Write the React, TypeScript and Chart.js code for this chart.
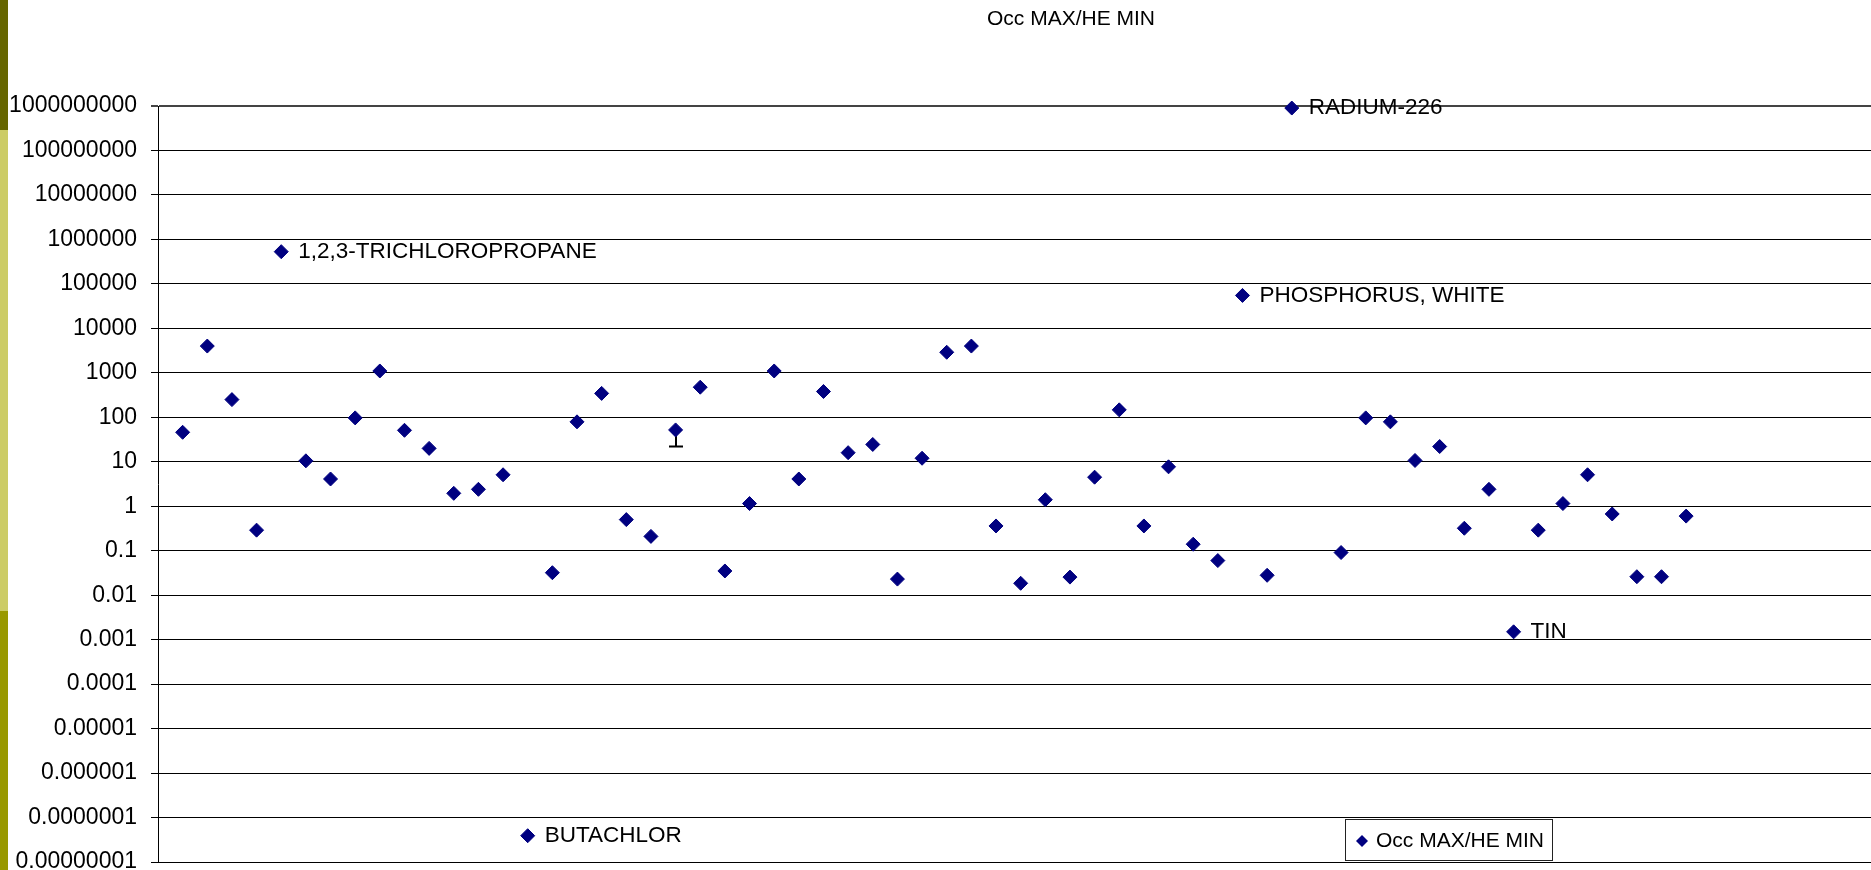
import React, { useEffect, useRef } from 'react';
import { Chart, registerables } from 'chart.js';

Chart.register(...registerables);

const chartTitle = 'Occ MAX/HE MIN';
const seriesName = 'Occ MAX/HE MIN';

// One value per substance, in plotted order (index 46 has no value)
const values: (number | null)[] = [
  46, 4000, 250, 0.29, 530000, 10.5, 4.1, 97, 1100, 51,
  20, 1.95, 2.4, 5.1, 3.9e-8, 0.032, 79, 345, 0.5, 0.21,
  52, 475, 0.035, 1.15, 1100, 4.1, 380, 16, 24.5, 0.023,
  12, 2900, 4000, 0.36, 0.0185, 1.4, 0.0255, 4.5, 147, 0.36,
  7.7, 0.14, 0.06, 55000, 0.028, 9e8, null, 0.091, 97, 79,
  10.7, 22, 0.32, 2.4, 0.0015, 0.29, 1.15, 5.1, 0.67, 0.026,
  0.026, 0.6,
];

const yTickLabels = [
  '0.00000001', '0.0000001', '0.000001', '0.00001', '0.0001', '0.001',
  '0.01', '0.1', '1', '10', '100', '1000', '10000', '100000', '1000000',
  '10000000', '100000000', '1000000000',
];

const labelIndex = [4, 14, 43, 45, 54];
const labelText = ['1,2,3-TRICHLOROPROPANE', 'BUTACHLOR', 'PHOSPHORUS, WHITE', 'RADIUM-226', 'TIN'];

const errorIndex = [20];
const errorLow = [22];

const FONT = '"Liberation Sans", Arial, sans-serif';
const W = 1871;
const H = 870;

const decorPlugin = {
  id: 'decor',
  beforeDraw(chart: any) {
    const ctx = chart.ctx;
    ctx.save();
    ctx.fillStyle = '#ffffff';
    ctx.fillRect(0, 0, chart.width, chart.height);
    ctx.fillStyle = '#666600';
    ctx.fillRect(0, 0, 8, 130);
    ctx.fillStyle = '#CCCC66';
    ctx.fillRect(0, 130, 8, 481);
    ctx.fillStyle = '#999900';
    ctx.fillRect(0, 611, 8, 259);
    ctx.fillStyle = '#000';
    ctx.font = `21px ${FONT}`;
    ctx.textAlign = 'center';
    ctx.textBaseline = 'middle';
    ctx.fillText(chartTitle, 1071, 19);
    ctx.restore();
  },
  beforeDatasetsDraw(chart: any) {
    const ctx = chart.ctx;
    const xs = chart.scales.x;
    const ys = chart.scales.y;
    ctx.save();
    ctx.strokeStyle = '#000';
    ctx.lineWidth = 2;
    errorIndex.forEach((idx, k) => {
      const v = values[idx];
      if (v == null) return;
      const px = Math.round(xs.getPixelForValue(idx + 1));
      const py = ys.getPixelForValue(v);
      const pl = ys.getPixelForValue(errorLow[k]);
      ctx.beginPath();
      ctx.moveTo(px, py);
      ctx.lineTo(px, pl);
      ctx.moveTo(px - 7, pl);
      ctx.lineTo(px + 7, pl);
      ctx.stroke();
    });
    ctx.restore();
  },
  afterDatasetsDraw(chart: any) {
    const ctx = chart.ctx;
    const xs = chart.scales.x;
    const ys = chart.scales.y;
    ctx.save();
    ctx.fillStyle = '#000';
    ctx.font = `22.5px ${FONT}`;
    ctx.textAlign = 'left';
    ctx.textBaseline = 'middle';
    labelIndex.forEach((idx, k) => {
      const v = values[idx];
      if (v == null) return;
      const px = xs.getPixelForValue(idx + 1);
      const py = ys.getPixelForValue(v);
      ctx.fillText(labelText[k], px + 17, py);
    });
    // legend box
    const bx = 1345.5, by = 819.5, bw = 207, bh = 41;
    ctx.fillStyle = '#fff';
    ctx.fillRect(bx, by, bw, bh);
    ctx.strokeStyle = '#222';
    ctx.lineWidth = 1;
    ctx.strokeRect(bx, by, bw, bh);
    const cx = 1362, cy = 841, r = 6;
    ctx.fillStyle = '#000080';
    ctx.beginPath();
    ctx.moveTo(cx - r, cy);
    ctx.lineTo(cx, cy - r);
    ctx.lineTo(cx + r, cy);
    ctx.lineTo(cx, cy + r);
    ctx.closePath();
    ctx.fill();
    ctx.fillStyle = '#000';
    ctx.font = `21px ${FONT}`;
    ctx.fillText(seriesName, 1376, 841);
    ctx.restore();
  },
};

export default function App() {
  const ref = useRef<HTMLCanvasElement | null>(null);

  useEffect(() => {
    if (!ref.current) return;
    const data = values.map((v, i) => ({ x: i + 1, y: v }));
    const chart = new Chart(ref.current, {
      type: 'scatter',
      data: {
        datasets: [
          {
            label: seriesName,
            data: data as any,
            pointStyle: 'rectRot',
            pointRadius: 7,
            pointBackgroundColor: '#000080',
            pointBorderColor: '#000080',
            pointBorderWidth: 1,
            showLine: false,
            clip: false,
          },
        ],
      },
      options: {
        animation: false,
        responsive: false,
        maintainAspectRatio: false,
        devicePixelRatio: 1,
        layout: { autoPadding: false, padding: { top: 106, bottom: 8, left: 0, right: 0 } },
        plugins: {
          legend: { display: false },
          title: { display: false },
          tooltip: { enabled: false },
        },
        scales: {
          x: {
            type: 'linear',
            display: false,
            min: 0,
            max: 69.5,
          },
          y: {
            type: 'logarithmic',
            min: Number(yTickLabels[0]),
            max: Number(yTickLabels[yTickLabels.length - 1]),
            afterBuildTicks: (scale: any) => {
              scale.ticks = yTickLabels.map((l) => ({ value: Number(l) }));
            },
            afterFit: (scale: any) => {
              scale.width = 158;
              scale.paddingTop = 0;
              scale.paddingBottom = 0;
            },
            ticks: {
              autoSkip: false,
              padding: 14,
              color: '#000',
              font: { family: FONT, size: 23 },
              callback: (_v: any, i: number) => yTickLabels[i],
            },
            grid: {
              color: (c: any) => (c.index === yTickLabels.length - 1 ? '#444' : '#000'),
              lineWidth: (c: any) => (c.index === yTickLabels.length - 1 ? 2 : 1),
              tickLength: 7,
              drawTicks: true,
            },
            border: { color: '#000', width: 1 },
          },
        },
      },
      plugins: [decorPlugin],
    });
    return () => chart.destroy();
  }, []);

  return (
    <div style={{ position: 'fixed', left: 0, top: 0, width: W, height: H, background: '#fff' }}>
      <canvas ref={ref} width={W} height={H} style={{ display: 'block', width: W, height: H }} />
    </div>
  );
}
